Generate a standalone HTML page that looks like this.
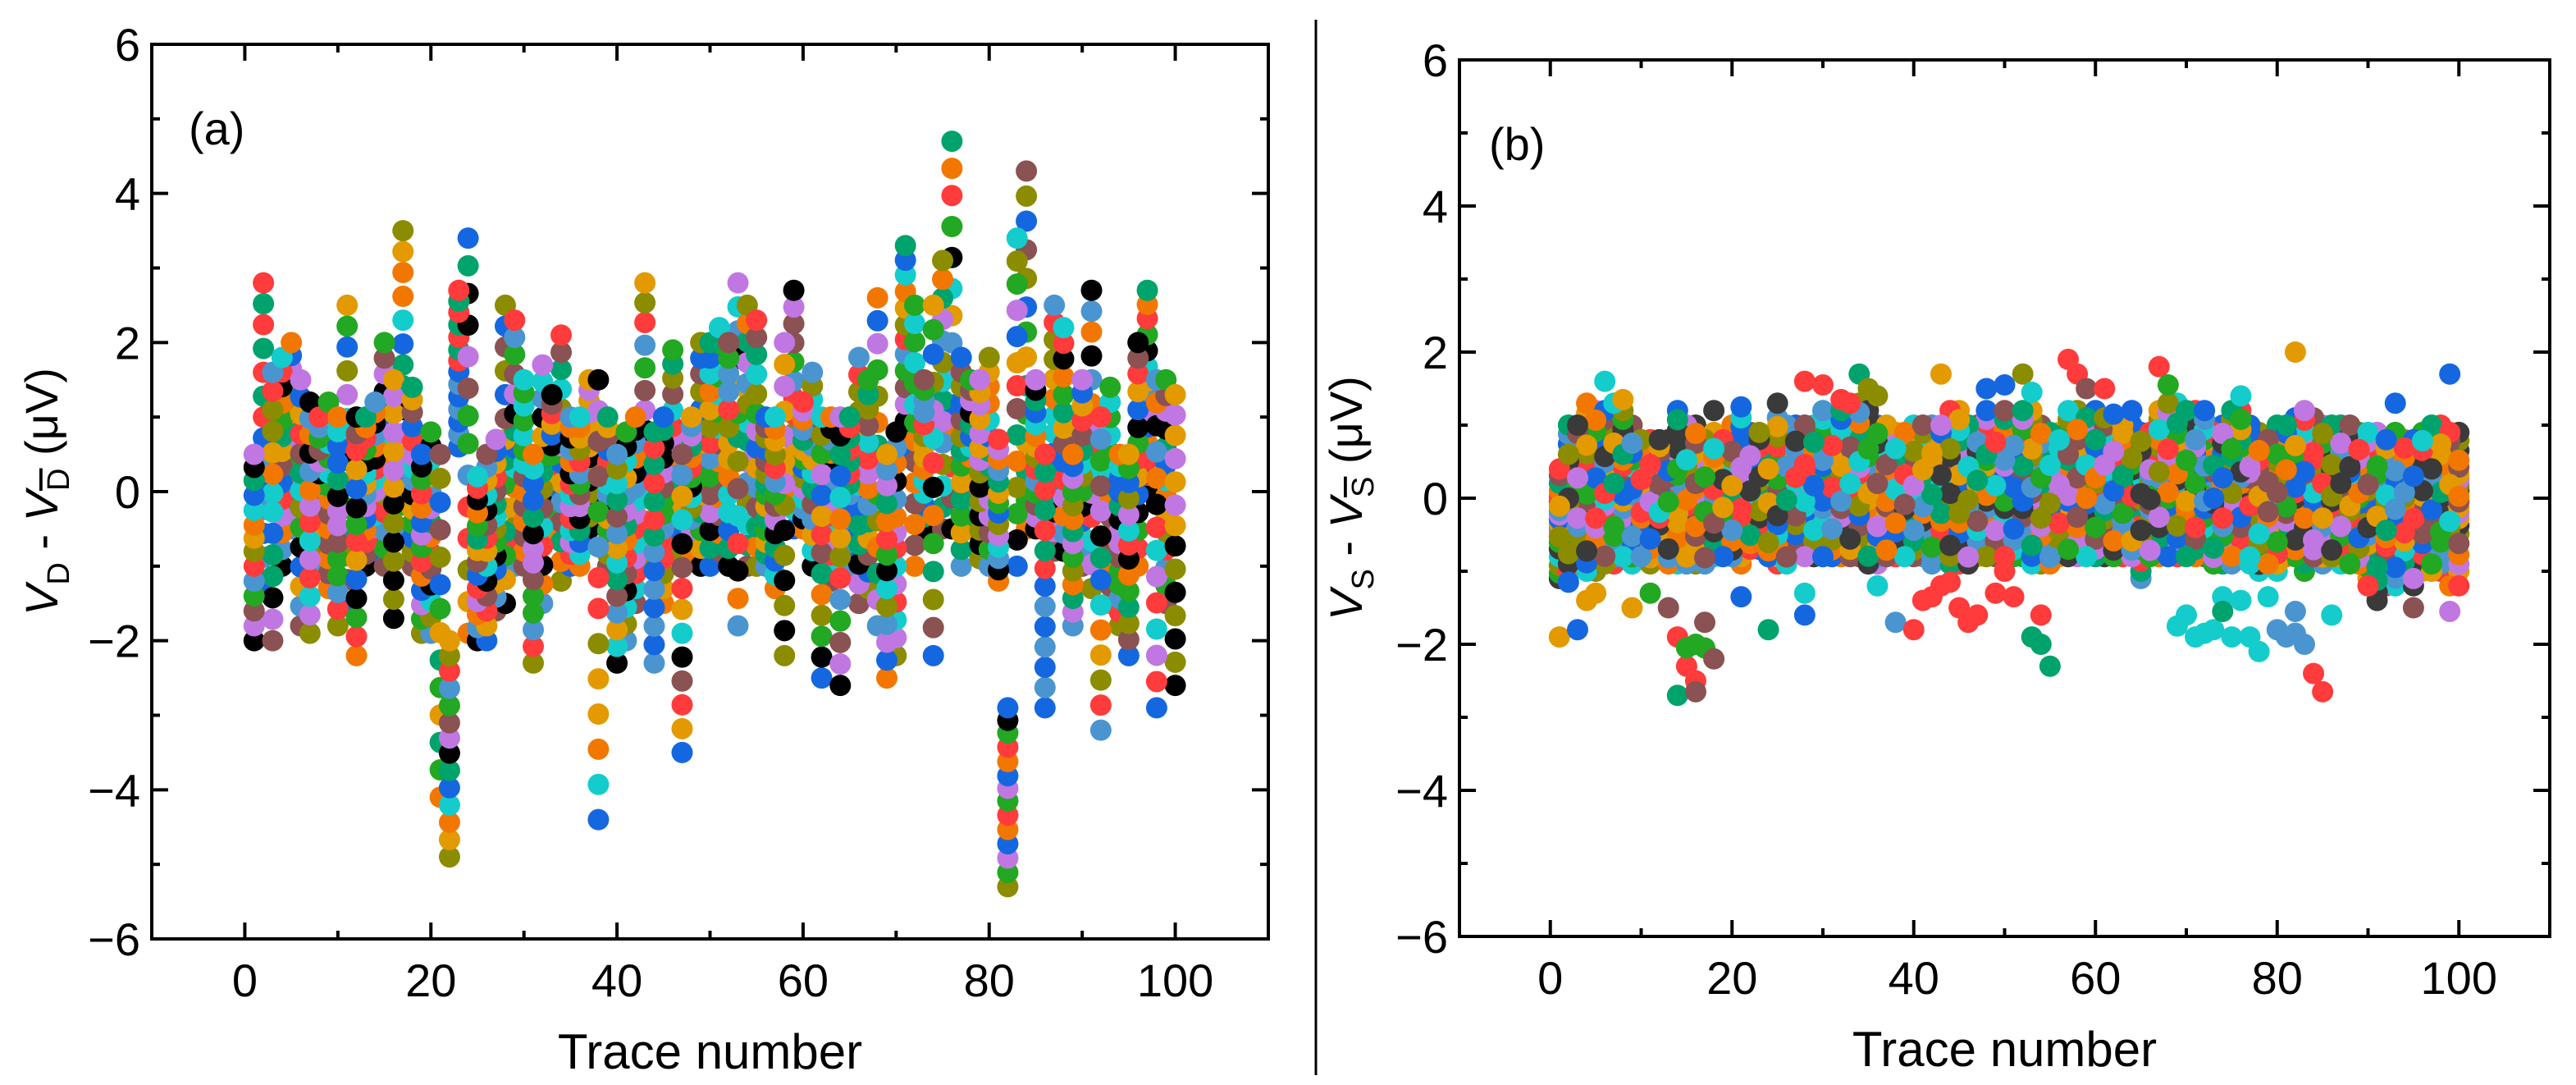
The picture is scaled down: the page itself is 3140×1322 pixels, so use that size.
<!DOCTYPE html>
<html><head><meta charset="utf-8">
<style>
html,body{margin:0;padding:0;background:#fff;}
svg{display:block;font-family:"Liberation Sans",Arial,sans-serif;}
</style></head>
<body>
<svg id="fig" width="3140" height="1322" viewBox="0 0 3140 1322" xmlns="http://www.w3.org/2000/svg">
<line x1="1604" y1="24" x2="1604" y2="1310" stroke="#000" stroke-width="3"/>
<g id="pa"></g>
<g id="pb"></g>
</svg>
<script>
// ---- data ----
const xTicks = [0,20,40,60,80,100];
const yTicks = [-6,-4,-2,0,2,4,6];
const palette = ['#000000','#ff3b3b','#1567e0','#22a822','#f27700','#c077e2','#8c8c00','#00a36c','#4a95d0','#14cccc','#8a5252','#e29a00'];
const aLo = [-2,-1.2,-2,-1,-0.5,-1.8,-1.9,-1,-1.3,-1.8,
 -1.5,-2.2,-1,-0.8,-1,-1.7,-0.5,-1,-1.9,-1.9,
 -4.1,-4.9,0.6,-1.9,-2,-2,-1.6,-1.5,-1,-1,
 -2.3,-1.5,-0.5,-1.2,-1,-1,-0.5,-4.4,-1,-2.3,
 -2,-1.5,-1,-2.3,-1.5,-0.8,-3.5,-0.8,-1,-1,
 -0.8,-1,-1.8,-1,-1,-1,-1.3,-2.2,-0.5,-0.5,
 -1,-2.5,-1.2,-2.6,-1,-1.5,-1.3,-1.8,-2.5,-2.2,
 0.5,-1,-0.5,-2.2,-0.5,-0.5,-1,-0.5,-0.9,-1,
 -1.2,-5.3,-1,-0.5,-0.5,-2.9,-0.8,-0.8,-1.8,-1,
 -1.3,-3.2,-1.5,-1.8,-2.2,-1,0,-2.9,-1.5,-2.6];
const aHi = [0.5,2.8,1.6,1.8,2,1.5,1.2,1,1.2,1,
 2.5,1,1,1.2,2,1.5,3.5,1.4,0.5,0.8,
 0.5,-2,2.7,3.4,0.2,0.5,0.7,2.5,2.3,1.5,
 0.5,1.7,1.3,2.1,1,1,1.5,1.5,1,0.5,
 0.8,1,2.8,0.8,1,1.9,0.5,1,2,2,
 2.2,2,2.8,2.5,2.3,1,1,2,2.7,1.2,
 1.6,1,1,1,1,1.8,1.5,2.6,0.5,0.8,
 3.3,2.5,1.5,2.5,3.1,4.7,1.8,1.5,1.5,1.8,
 0.7,-2.9,3.4,4.3,1.5,0.5,2.5,2.2,0.5,1.5,
 2.7,1,1.4,0.5,0.5,2,2.7,1.5,1.5,1.3];
const bLo = [-1.1,-1,-0.9,-1,-1,-0.9,-0.9,-0.8,-0.9,-0.8,
 -0.9,-0.8,-0.9,-0.9,-0.9,-0.9,-0.9,-0.8,-0.8,-0.8,
 -0.9,-0.7,-0.7,-0.8,-0.9,-0.9,-0.7,-0.8,-0.8,-0.8,
 -0.8,-0.8,-0.8,-0.8,-0.9,-0.9,-0.8,-0.8,-0.8,-0.8,
 -0.8,-0.9,-0.8,-0.9,-0.9,-0.9,-0.8,-0.8,-0.8,-0.8,
 -0.8,-0.8,-0.9,-0.9,-0.9,-0.8,-0.8,-0.8,-0.8,-0.8,
 -0.8,-0.8,-0.8,-0.8,-1.1,-0.8,-0.8,-0.8,-0.8,-0.8,
 -0.8,-0.8,-0.9,-0.9,-0.9,-0.8,-0.9,-1,-0.9,-1,
 -0.8,-0.8,-1,-0.8,-0.9,-0.8,-0.9,-0.9,-0.9,-1.2,
 -1.4,-1.2,-1.2,-1.1,-1.2,-1,-1,-1,-1.2,-1];
const bHi = [0.4,1,1,1.3,1.2,1.2,1,1.2,1,0.8,
 0.8,0.8,0.8,1.2,1,1,0.8,0.9,0.8,1,
 1.1,0.9,0.9,0.8,1.1,1,1,1,1,1.2,
 1.1,1.2,1.2,1.3,1.2,1,1,0.9,0.9,1,
 1,1,1,1.2,1.2,1,1,1.2,1,1.2,
 1.1,1.2,1.2,1,0.9,0.9,1.2,1.2,1.1,1.2,
 1.1,1,1,1,0.9,0.9,1.2,1.3,1.3,1.2,
 1.2,1.2,0.9,1,1.2,1.2,1,0.9,0.8,1,
 1,1.1,1.2,1.1,1,1,1,1,0.9,0.9,
 0.9,0.8,0.9,0.8,0.8,0.9,1,1,0.9,0.9];
const bOutT = [1,2,3,4,5,6,7,8,9,11,13,14,14,15,15,16,16,16,17,17,18,18,21,21,24,25,28,28,28,30,32,33,34,35,36,36,38,40,41,42,43,43,44,45,46,47,48,49,50,50,51,52,53,53,54,54,55,57,58,59,61,62,64,67,68,69,70,71,72,73,74,74,75,76,76,77,78,79,80,81,82,82,82,83,84,85,86,90,93,95,99,99,100];
const bOutV = [-1.9,-1.15,-1.8,-1.4,-1.3,1.6,1.3,1.35,-1.5,-1.3,-1.5,-1.9,-2.7,-2.3,-2.05,-2.5,-2.65,-2.0,-2.05,-1.7,-2.2,1.2,-1.35,1.25,-1.8,1.3,1.6,-1.6,-1.3,1.55,1.35,1.3,1.7,1.5,1.4,-1.2,-1.7,-1.8,-1.4,-1.35,1.7,-1.2,-1.15,-1.5,-1.7,-1.6,1.5,-1.3,1.55,-1.0,-1.35,1.7,-1.9,1.45,-2.0,-1.6,-2.3,1.9,1.7,1.5,1.5,1.15,1.2,1.8,1.55,-1.75,-1.6,-1.9,-1.85,-1.8,-1.35,-1.55,-1.9,-1.4,1.4,-1.9,-2.1,-1.35,-1.8,-1.9,-1.85,-1.55,2.0,-2.0,-2.4,-2.65,-1.6,-1.2,1.3,-1.5,1.7,-1.55,-1.2];
const bOutC = [11,2,2,11,11,9,9,11,11,3,10,1,7,1,3,1,10,3,3,10,10,0,2,2,7,0,1,2,9,1,1,1,7,6,6,9,8,1,1,1,11,1,1,1,1,1,2,1,2,1,1,6,7,9,7,1,7,1,1,10,1,2,2,1,3,9,9,9,9,9,9,7,9,9,9,9,9,9,8,8,8,8,11,8,1,1,9,1,2,10,2,5,1];
const aFrac = [0,0.08,0.16,0.24,0.32,0.4,0.48,0.55,0.62,0.7,0.78,0.86,0.93,1];
const bFrac = [0,0.05,0.12,0.2,0.27,0.33,0.38,0.42,0.46,0.5,0.54,0.58,0.62,0.66,0.7,0.75,0.8,0.87,0.94,1];

const NS='http://www.w3.org/2000/svg';
function mk(tag, attrs, parent){const e=document.createElementNS(NS,tag);for(const k in attrs)e.setAttribute(k,attrs[k]);parent.appendChild(e);return e;}
function colIdx(k,t){return (k*5 + t*t*3 + t*11 + ((k*t)%7))%12;}

function panel(g, L, R, T, B, label, labelX, ylabX, sub){
  const sx = v => L + (v+10)/120*(R-L);
  const sy = v => B - (v+6)/12*(B-T);
  const dots = mk('g',{},g);
  
  
  const fr = mk('rect',{x:L,y:T,width:R-L,height:B-T,fill:'none',stroke:'#000','stroke-width':4},g);
  
  
  for(let v=-10; v<=110; v+=10){
    const major = v%20===0; const len = major?20:10; const x=sx(v);
    mk('line',{x1:x,y1:B,x2:x,y2:B-len,stroke:'#000','stroke-width':4},g);
    mk('line',{x1:x,y1:T,x2:x,y2:T+len,stroke:'#000','stroke-width':4},g);
  }
  for(let v=-5; v<=5; v+=1){
    const major = v%2===0; const len = major?20:10; const y=sy(v);
    mk('line',{x1:L,y1:y,x2:L+len,y2:y,stroke:'#000','stroke-width':4},g);
    mk('line',{x1:R,y1:y,x2:R-len,y2:y,stroke:'#000','stroke-width':4},g);
  }
  xTicks.forEach(v=>{
    const t = mk('text',{x:sx(v),y:B+70,'font-size':56,'text-anchor':'middle'},g);
    t.textContent = v;
    
    
  });
  yTicks.forEach(v=>{
    const t = mk('text',{x:L-14,y:sy(v)+20,'font-size':56,'text-anchor':'end'},g);
    t.textContent = v<0 ? '\u2212'+Math.abs(v) : v;
    
    
  });
  const xt = mk('text',{x:(L+R)/2,y:B+158,'font-size':60,'text-anchor':'middle'},g);
  xt.textContent='Trace number';
  
  
  const pl = mk('text',{x:labelX,y:T+122,'font-size':56},g);
  pl.textContent = label;
  
  
  const yc=(T+B)/2;
  const yt = mk('text',{x:0,y:0,'font-size':56,'text-anchor':'middle',transform:`translate(${ylabX},${yc}) rotate(-90)`},g);
  
  
  yt.innerHTML = `<tspan font-style="italic">V</tspan><tspan font-size="38" dy="14">${sub}</tspan><tspan dy="-14"> - </tspan><tspan font-style="italic">V</tspan><tspan font-size="38" dy="14" text-decoration="overline">${sub}</tspan><tspan dy="-14"> (\u03bcV)</tspan>`;
  return {sx, sy, dots};
}

const A = panel(document.getElementById('pa'), 185, 1546, 54, 1144, '(a)', 230, 70, 'D');
for(let k=0;k<aFrac.length;k++){
  for(let t=0;t<aLo.length;t++){
    const v = aLo[t] + aFrac[k]*(aHi[t]-aLo[t]);
    const c = mk('circle',{cx:A.sx(t+1),cy:A.sy(v),r:13,fill:palette[colIdx(k,t)]},A.dots);
    
    
  }
}

const Bp = panel(document.getElementById('pb'), 1779, 3108, 73, 1141, '(b)', 1815, 1660, 'S');
const nb = bFrac.length;
for(let k=0;k<nb;k++){
  for(let t=0;t<bLo.length;t++){
    const f = bFrac[(k*7 + t*3)%nb];
    const v = bLo[t] + f*(bHi[t]-bLo[t]);
    const ci = colIdx(k,t);
    const col = ci===0 ? '#3a3a3a' : palette[ci];
    const c = mk('circle',{cx:Bp.sx(t+1),cy:Bp.sy(v),r:13,fill:col},Bp.dots);
    
    
  }
}
for(let i=0;i<bOutT.length;i++){
  const ci = bOutC[i];
  const col = ci===0 ? '#3a3a3a' : palette[ci];
  const c = mk('circle',{cx:Bp.sx(bOutT[i]),cy:Bp.sy(bOutV[i]),r:13,fill:col},Bp.dots);
  
  
}
</script>
</body></html>
